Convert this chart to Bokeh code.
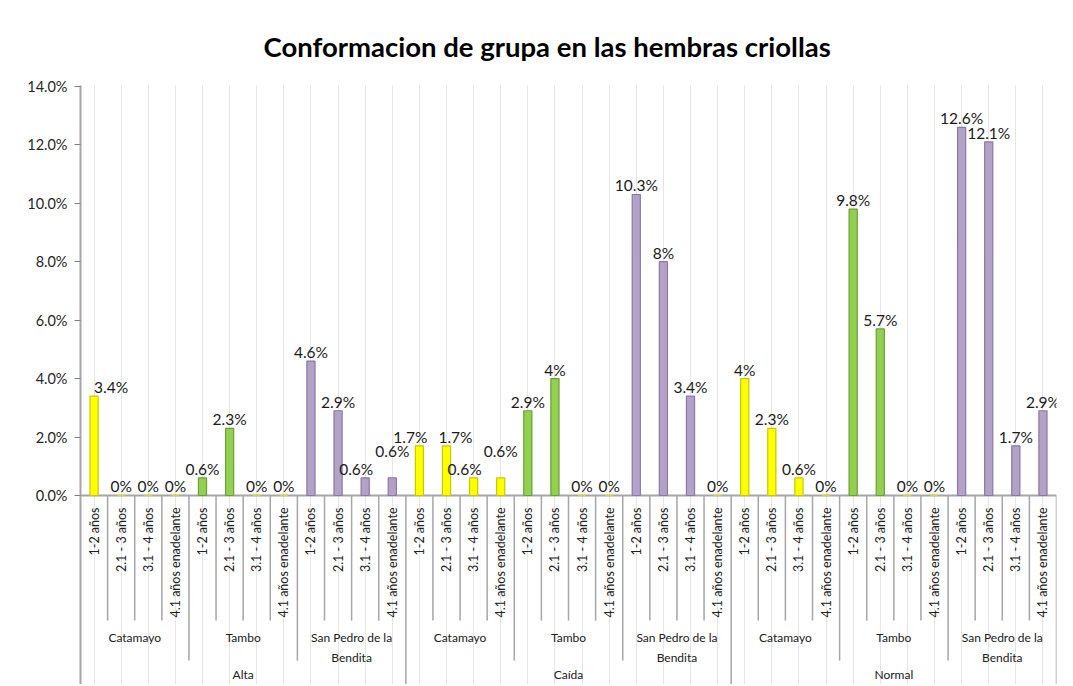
from bokeh.plotting import figure
from bokeh.models import FactorRange, Range1d, FixedTicker, CustomJSTickFormatter, ColumnDataSource
from bokeh.transform import dodge
from bokeh.core.properties import value
from bokeh.embed import file_html
from bokeh.resources import INLINE

# ---- data ----
title_text = "Conformacion de grupa en las hembras criollas"
regions = ["Alta", "Caída", "Normal"]
cities = ["Catamayo", "Tambo", "San Pedro de la Bendita"]
city_labels = ["Catamayo", "Tambo", "San Pedro de la\nBendita"]
ages = ["1-2 años", "2.1 - 3 años", "3.1 - 4 años", "4.1 años enadelante"]

alta = [3.4, 0, 0, 0, 0.6, 2.3, 0, 0, 4.6, 2.9, 0.6, 0.6]
caida = [1.7, 1.7, 0.6, 0.6, 2.9, 4.0, 0, 0, 10.3, 8.0, 3.4, 0]
normal = [4.0, 2.3, 0.6, 0, 9.8, 5.7, 0, 0, 12.6, 12.1, 1.7, 2.9]
y_ticks = [0, 2, 4, 6, 8, 10, 12, 14]

city_fill = {"Catamayo": "#FFFF00", "Tambo": "#92D050", "San Pedro de la Bendita": "#B3A2C7"}
city_line = {"Catamayo": "#C8C800", "Tambo": "#6E9E3A", "San Pedro de la Bendita": "#8A78A6"}

series = {"Alta": alta, "Caída": caida, "Normal": normal}

factors, tops, fills, lines, labels = [], [], [], [], []
sep_x, sep_len = [], []
for r in regions:
    vals = series[r]
    k = 0
    for ci, c in enumerate(cities):
        for ai, a in enumerate(ages):
            f = (r, c, a)
            v = vals[k]
            k += 1
            factors.append(f)
            tops.append(v)
            fills.append(city_fill[c] if v > 0 else "#FFFF00")
            lines.append(city_line[c] if v > 0 else "#D8D800")
            labels.append(f"{v:g}%")
            if ci == 0 and ai == 0:
                if r != regions[0]:
                    sep_x.append(f); sep_len.append(-7.0)
            elif ai == 0:
                sep_x.append(f); sep_len.append(-5.65)
            else:
                sep_x.append(f); sep_len.append(-4.28)

# label placement rules (avoid overlaps, like the spreadsheet's auto layout)
xoff = [0] * len(tops)
yoff = [-9] * len(tops)
xoff[0] = 17  # keep the first label clear of the value axis
for i in range(1, len(tops)):
    if tops[i] > 0 and tops[i - 1] > 0 and abs(tops[i] - tops[i - 1]) < 0.5:
        xoff[i - 1] -= 9
        if tops[i] < 1:
            yoff[i] -= 18
        else:
            xoff[i] += 9

W, H = 1068, 684
p = figure(width=W, height=H, output_backend="svg", toolbar_location=None,
           x_range=FactorRange(*factors, factor_padding=0, subgroup_padding=0,
                               group_padding=0, range_padding=0),
           y_range=Range1d(-6.468, 14.03),
           x_axis_location=None, min_border_left=80, min_border_right=W - 1056,
           min_border_bottom=0, min_border_top=85)
p.outline_line_color = None
p.ygrid.visible = False
p.background_fill_color = "white"
p.border_fill_color = "white"

# title
p.title.text = title_text
p.title.text_font = "Lato"
p.title.text_font_size = "27.5px"
p.title.text_font_style = "bold"
p.title.text_color = "#000000"
p.title.align = "left"
p.title.offset = 183
p.title.standoff = 46

# y axis
ax = p.yaxis[0]
ax.ticker = FixedTicker(ticks=y_ticks)
ax.formatter = CustomJSTickFormatter(code="return tick.toFixed(1) + '%';")
ax.axis_line_color = "#A6A6A6"
ax.axis_line_width = 2
ax.major_tick_line_color = "#808080"
ax.major_tick_out = 6
ax.major_tick_in = 0
ax.minor_tick_line_color = None
ax.major_label_text_font = "Lato"
ax.major_label_text_font_size = "14.5px"
ax.major_label_text_color = "#262626"
ax.major_label_standoff = 7

src = ColumnDataSource(dict(x=factors, top=tops, fill=fills, line=lines, label=labels,
                            xoff=xoff, yoff=yoff))

# floor
p.segment(x0=dodge("x0", -0.5, range=p.x_range), y0=0, x1=dodge("x1", 0.5, range=p.x_range), y1=0,
          source=ColumnDataSource(dict(x0=[factors[0]], x1=[factors[-1]])),
          line_color="#A6A6A6", line_width=2)

# separators
p.segment(x0=dodge("x", -0.5, range=p.x_range), y0=0, x1=dodge("x", -0.5, range=p.x_range),
          y1="y1", source=ColumnDataSource(dict(x=sep_x, y1=sep_len)),
          line_color="#A6A6A6", line_width=1.5)
p.segment(x0=dodge("x", 0.5, range=p.x_range), y0=0, x1=dodge("x", 0.5, range=p.x_range),
          y1=-7.0, source=ColumnDataSource(dict(x=[factors[-1]])),
          line_color="#A6A6A6", line_width=1.5)

# bars
p.vbar(x="x", top="top", bottom=0, width=0.3, source=src,
       fill_color="fill", line_color="line", line_width=1.2)

# value labels
p.text(x="x", y="top", text="label", source=src, text_align="center",
       text_baseline="alphabetic", y_offset="yoff", x_offset="xoff", text_font=value("Lato"),
       text_font_size="15.5px", text_color="#1A1A1A")

# inner category labels (rotated)
p.text(x="x", y=-0.41, text="a", source=ColumnDataSource(dict(x=factors, a=[f[2] for f in factors])),
       angle=1.5708, text_align="right", text_baseline="middle",
       text_font=value("Lato"), text_font_size="12.5px", text_color="#202020")

# city labels
city_f = [(r, c) for r in regions for c in cities]
city_t = [city_labels[cities.index(c)] for r in regions for c in cities]
p.text(x="x", y=-4.59, text="t", source=ColumnDataSource(dict(x=city_f, t=city_t)),
       text_align="center", text_baseline="top", text_line_height=1.35,
       text_font=value("Lato"), text_font_size="12px", text_color="#202020")

# region labels
p.text(x="x", y=-6.12, text="t", source=ColumnDataSource(dict(x=regions, t=regions)),
       text_align="center", text_baseline="middle",
       text_font=value("Lato"), text_font_size="12px", text_color="#202020")

open("out.html", "w").write(file_html(p, INLINE))
